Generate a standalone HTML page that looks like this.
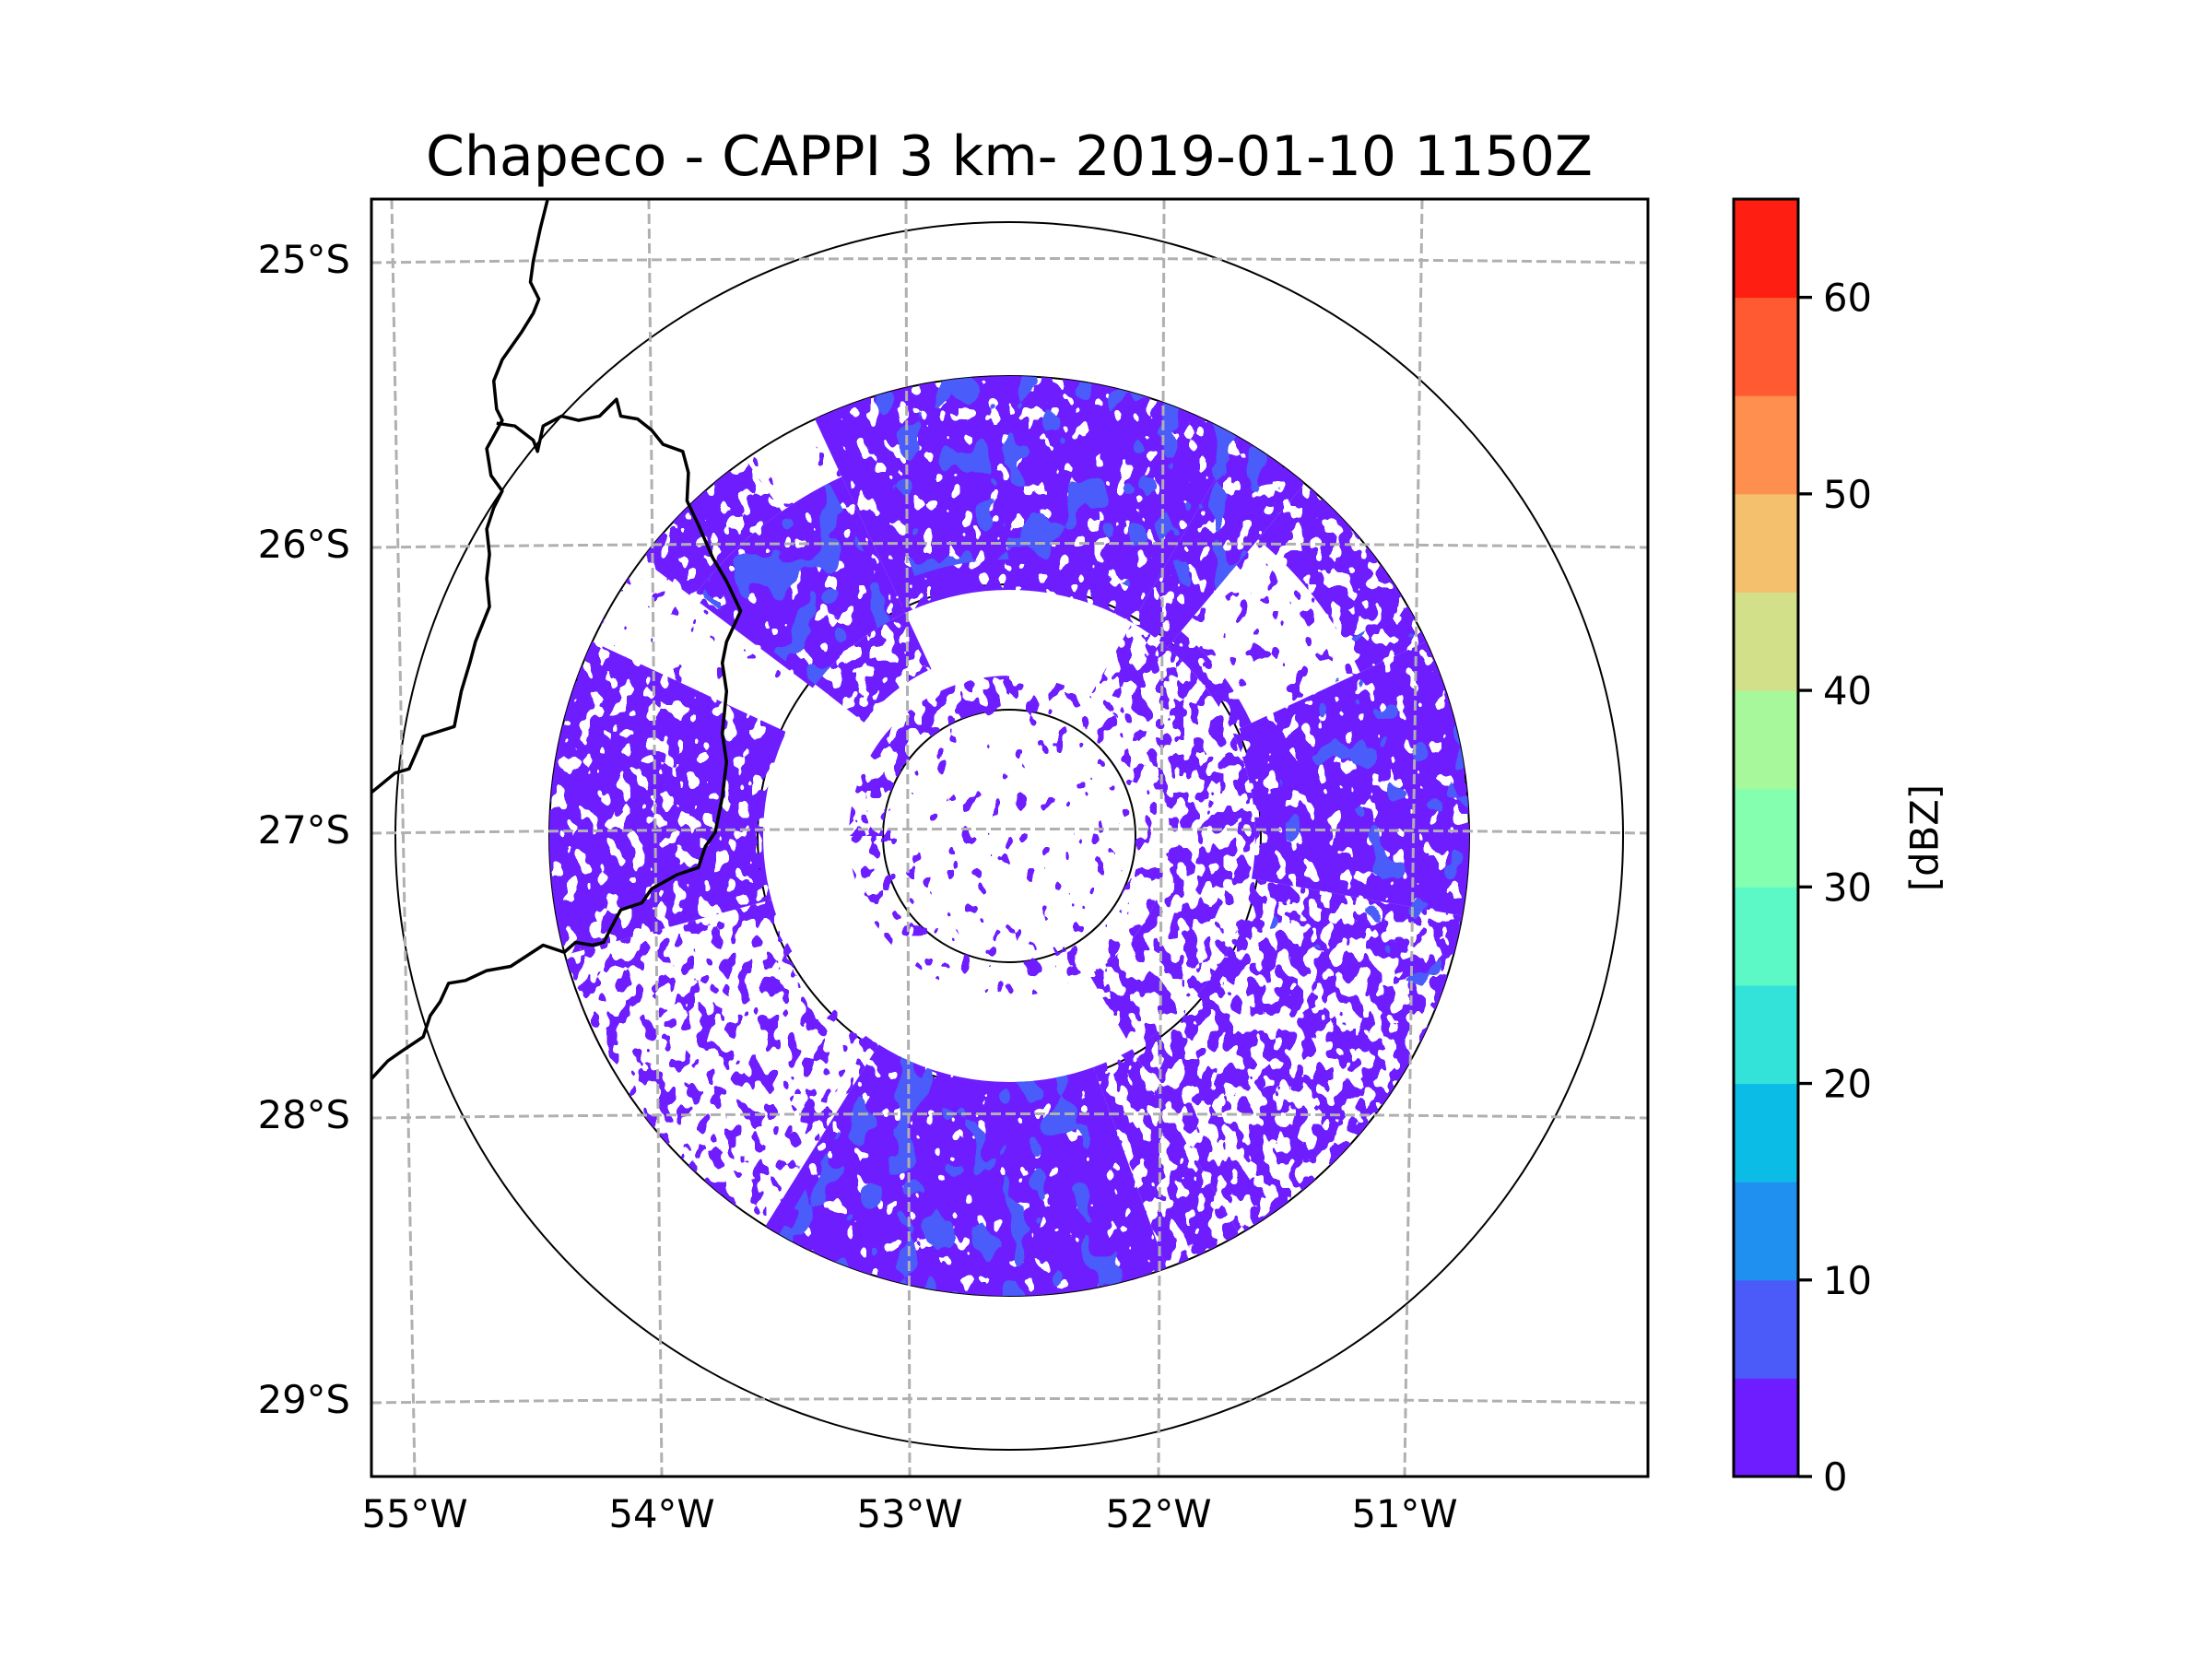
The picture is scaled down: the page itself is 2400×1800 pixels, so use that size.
<!DOCTYPE html>
<html><head><meta charset="utf-8"><style>
html,body{margin:0;padding:0;background:#fff;}
svg{display:block;}
text{font-family:"DejaVu Sans","Liberation Sans",sans-serif;fill:#000;}
</style></head><body>
<svg id="fig" width="2400" height="1800" viewBox="0 0 2400 1800" xmlns="http://www.w3.org/2000/svg">
<defs id="defs"><clipPath id="axclip"><rect x="403" y="216" width="1385" height="1386"/></clipPath></defs>
<text x="1095" y="190" font-size="60" text-anchor="middle">Chapeco - CAPPI 3 km- 2019-01-10 1150Z</text>
<g id="plot" clip-path="url(#axclip)">
  <g id="rings"></g>
  <g id="echo"></g>
  <g id="grid"></g>
  <g id="borders"></g>
</g>
<rect x="403" y="216" width="1385" height="1386" fill="none" stroke="#000" stroke-width="3"/>
<g id="ylabels"></g>
<g id="xlabels"></g>
<g id="cbar"></g>
<text transform="translate(2088,909) rotate(-90)" font-size="41.7" text-anchor="middle" dominant-baseline="central">[dBZ]</text>
</svg>
<script>
const NS='http://www.w3.org/2000/svg';
const latLabels=['25°S','26°S','27°S','28°S','29°S'];
const latY=[281,590,900,1209,1518];
const lonLabels=['55°W','54°W','53°W','52°W','51°W'];
const lonXTop=[425,704,983,1263,1543];
const lonXBot=[450,718,987,1257,1524];
const cbarLevels=[0,5,10,15,20,25,30,35,40,45,50,55,60,65];
const cbarColors=['#6d1dff','#4a5bfa','#1f90f0','#0bbde6','#33e2d8','#5cf8c6','#84ffb0','#a6f89a','#d2e08a','#f5c06e','#ff8f4e','#ff5a32','#ff1e12'];
const cbarTicks=[0,10,20,30,40,50,60];
const ringRadii=[137,273,499,666];
// echo regions: [rInner, rOuter, bearingStart, bearingEnd, density]
const purpleRegions=[
 [0,137,0,360,0.08],
 [137,174,0,270,0.25],[137,174,270,360,0.45],
 [174,267,30,150,0.45],[174,267,150,308,0.02],[200,267,308,335,0.6],[174,267,335,390,0.02],
 [267,499,335,390,0.8],
 [267,499,30,40,0.75],
 [267,290,40,65,0.6],[290,420,40,65,0.15],[420,499,40,65,0.65],
 [267,499,65,100,0.8],[267,499,100,150,0.5],
 [267,499,150,160,0.6],[267,499,160,212,0.9],[267,499,212,255,0.35],
 [267,499,255,295,0.7],[267,499,295,307,0.04],
 [267,430,307,335,0.8],[430,499,307,325,0.7],[430,499,325,335,0.1]
];
const blueRegions=[
 [300,499,340,400,0.3],[267,430,308,333,0.35],[267,499,165,210,0.3],[300,499,60,110,0.15]
];
const cx=1095,cy=907;
function el(tag,attrs,parent){const e=document.createElementNS(NS,tag);for(const k in attrs)e.setAttribute(k,attrs[k]);parent.appendChild(e);return e;}
const defs=document.getElementById('defs');
function makeFilter(id,dens,col,seed,freq){
  const f=el('filter',{id:id,x:500,y:300,width:1200,height:1200,filterUnits:'userSpaceOnUse','color-interpolation-filters':'sRGB'},defs);
  el('feTurbulence',{type:'fractalNoise',baseFrequency:freq,numOctaves:2,seed:seed,result:'n'},f);
  el('feColorMatrix',{type:'matrix',values:`0 0 0 0 ${col[0]} 0 0 0 0 ${col[1]} 0 0 0 0 ${col[2]} 2.2 0 0 0 -0.6`},f);
  const ct=el('feComponentTransfer',{},f);
  const n=20,ones=Math.round(dens*n),t=[];for(let i=0;i<n;i++)t.push(i>=n-ones?1:0);
  el('feFuncA',{type:'discrete',tableValues:t.join(' ')},ct);
  el('feComposite',{in2:'SourceGraphic',operator:'in'},f);
}
function pt(r,b){const a=b*Math.PI/180;return [cx+r*Math.sin(a),cy-r*Math.cos(a)];}
function sector(r0,r1,b0,b1){
  if(b1-b0>=360){return `M${cx-r1},${cy}A${r1},${r1} 0 1 1 ${cx+r1},${cy}A${r1},${r1} 0 1 1 ${cx-r1},${cy}Z`+(r0>0?`M${cx-r0},${cy}A${r0},${r0} 0 1 0 ${cx+r0},${cy}A${r0},${r0} 0 1 0 ${cx-r0},${cy}Z`:'');}
  const lg=(b1-b0)>180?1:0;const p1=pt(r1,b0),p2=pt(r1,b1),p3=pt(r0,b1),p4=pt(r0,b0);
  return `M${p1}A${r1},${r1} 0 ${lg} 1 ${p2}L${p3}A${r0},${r0} 0 ${lg} 0 ${p4}Z`;
}
const rings=document.getElementById('rings');
ringRadii.forEach((r,i)=>{const c=el('circle',{cx:cx,cy:cy,r:r,fill:'none',stroke:'#000','stroke-width':2},rings);

});
const echo=document.getElementById('echo');
purpleRegions.forEach((g,i)=>{makeFilter('fp'+i,g[4],[0.43,0.115,1],7,'0.07 0.05');
 const p=el('path',{d:sector(g[0],g[1],g[2],g[3]),fill:'#000','fill-rule':'evenodd',filter:`url(#fp${i})`},echo);
 
 });
blueRegions.forEach((g,i)=>{makeFilter('fb'+i,g[4],[0.29,0.36,0.98],13,'0.035 0.025');
 const p=el('path',{d:sector(g[0],g[1],g[2],g[3]),fill:'#000',filter:`url(#fb${i})`},echo);
 
 });
const grid=document.getElementById('grid');
latY.forEach(y=>{const l=el('path',{d:`M403,${y+4}Q1095,${y-5} 1788,${y+4}`,fill:'none',stroke:'#b0b0b0','stroke-width':3,'stroke-dasharray':'11 5'},grid);

});
lonXTop.forEach((x,i)=>{const l=el('line',{x1:x,y1:216,x2:lonXBot[i],y2:1602,stroke:'#b0b0b0','stroke-width':3,'stroke-dasharray':'11 5'},grid);

});
const s=2400/1568;
const b1=[[388,142],[383,162],[378,185],[376,200],[382,212],[378,222],[370,235],[356,255],[350,270],[352,290],[356,298],[345,318],[348,337],[356,348],[350,360],[345,375],[347,393],[345,410],[347,430],[337,455],[333,470],[327,490],[322,515],[300,522],[290,545],[280,548],[263,562]];
const b2=[[352,300],[365,302],[378,312],[381,320],[385,302],[398,295],[410,298],[425,295],[437,283],[440,295],[452,297],[462,305],[470,315],[484,320],[488,335],[487,355],[495,372],[505,395],[515,412],[525,433],[515,455],[512,470],[515,490],[512,520],[515,540],[512,565],[507,590],[500,600],[495,615],[480,620],[462,630],[455,640],[440,645],[432,660],[428,668],[420,670],[408,668],[400,675],[385,670],[362,685],[345,688],[330,695],[318,697],[312,710],[305,720],[300,735],[285,745],[275,752],[263,765]];
const bord=document.getElementById('borders');
[b1,b2].forEach(b=>{const p=el('polyline',{points:b.map(q=>(q[0]*s).toFixed(1)+','+(q[1]*s).toFixed(1)).join(' '),fill:'none',stroke:'#000','stroke-width':3.5,'stroke-linejoin':'round'},bord);

});
const yl=document.getElementById('ylabels');
latLabels.forEach((t,i)=>{const e=el('text',{x:380,y:latY[i]+15,'font-size':41.7,'text-anchor':'end'},yl);e.textContent=t;

});
const xl=document.getElementById('xlabels');
lonLabels.forEach((t,i)=>{const e=el('text',{x:lonXBot[i],y:1657,'font-size':41.7,'text-anchor':'middle'},xl);e.textContent=t;

});
const cb=document.getElementById('cbar');const cx0=1881,cw=70,ctop=216,cbot=1602;
const vmin=cbarLevels[0],vmax=cbarLevels[cbarLevels.length-1];
const yv=v=>cbot-(v-vmin)/(vmax-vmin)*(cbot-ctop);
cbarColors.forEach((c,i)=>{const r=el('rect',{x:cx0,y:yv(cbarLevels[i+1]),width:cw,height:yv(cbarLevels[i])-yv(cbarLevels[i+1])+0.5,fill:c},cb);

});
el('rect',{x:cx0,y:ctop,width:cw,height:cbot-ctop,fill:'none',stroke:'#000','stroke-width':3},cb);
cbarTicks.forEach(v=>{const l=el('line',{x1:cx0+cw,x2:cx0+cw+15,y1:yv(v),y2:yv(v),stroke:'#000','stroke-width':3.3},cb);


const t=el('text',{x:cx0+cw+27,y:yv(v)+15,'font-size':41.7},cb);t.textContent=String(v);

});
</script>
</body></html>
